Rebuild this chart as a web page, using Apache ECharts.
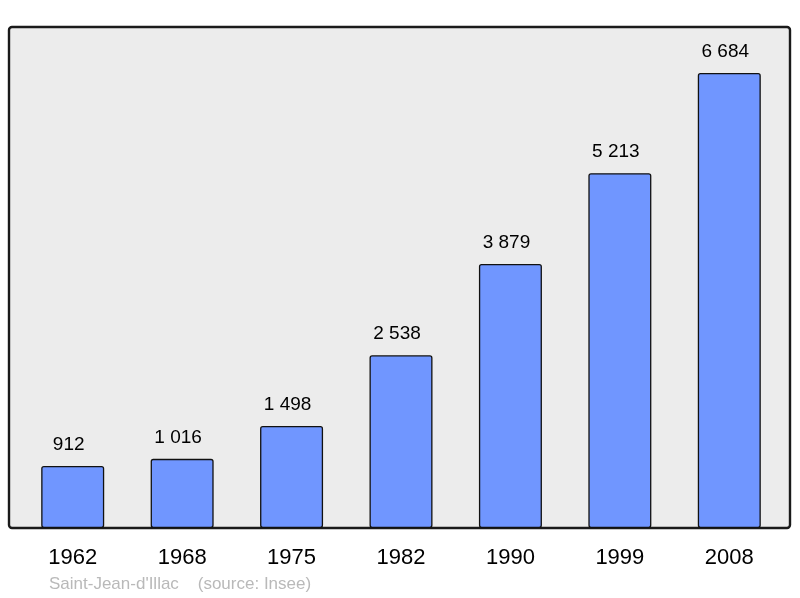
<!DOCTYPE html>
<html>
<head>
<meta charset="utf-8">
<script src="https://cdn.jsdelivr.net/npm/echarts@6/dist/echarts.min.js"></script>
<style>
  html, body { margin: 0; padding: 0; background: #fff; }
  #chart { width: 800px; height: 598px; }
</style>
</head>
<body>
<div id="chart"></div>
<script>
const years = ["1962", "1968", "1975", "1982", "1990", "1999", "2008"];
const population = [912, 1016, 1498, 2538, 3879, 5213, 6684];
const commune = "Saint-Jean-d'Illac";
const source = "(source: Insee)";

const fmt = v => String(v).replace(/\B(?=(\d{3})+(?!\d))/g, " ");

const chart = echarts.init(document.getElementById("chart"));
chart.setOption({
  animation: false,
  backgroundColor: "#fff",
  textStyle: { fontFamily: "Liberation Sans, Arial, sans-serif" },
  graphic: [
    {
      type: "rect",
      z: 0,
      silent: true,
      shape: { x: 9, y: 27, width: 781, height: 501, r: 3 },
      style: { fill: "#ececec", stroke: "#1a1a1a", lineWidth: 2.4 }
    },
    {
      type: "text",
      left: 49,
      top: 576,
      style: {
        text: commune + "    " + source,
        fill: "#b9b9b9",
        fontSize: 17,
        fontFamily: "Liberation Sans, Arial, sans-serif"
      }
    }
  ],
  grid: { left: 18, right: 16, top: 27, bottom: 70, containLabel: false },
  xAxis: {
    type: "category",
    data: years,
    axisLine: { show: false },
    axisTick: { show: false },
    axisLabel: { color: "#000", fontSize: 22, margin: 19 }
  },
  yAxis: {
    type: "value",
    min: 0,
    max: 7360,
    show: false,
    splitLine: { show: false }
  },
  series: [{
    type: "bar",
    z: 2,
    data: population,
    barWidth: 63,
    itemStyle: {
      color: "#7096ff",
      borderColor: "#111",
      borderWidth: 1.3,
      borderRadius: 2
    },
    label: {
      show: true,
      position: "top",
      distance: 12,
      offset: [-4, 0],
      color: "#000",
      fontSize: 19,
      formatter: p => fmt(p.value)
    }
  }]
});
</script>
</body>
</html>
